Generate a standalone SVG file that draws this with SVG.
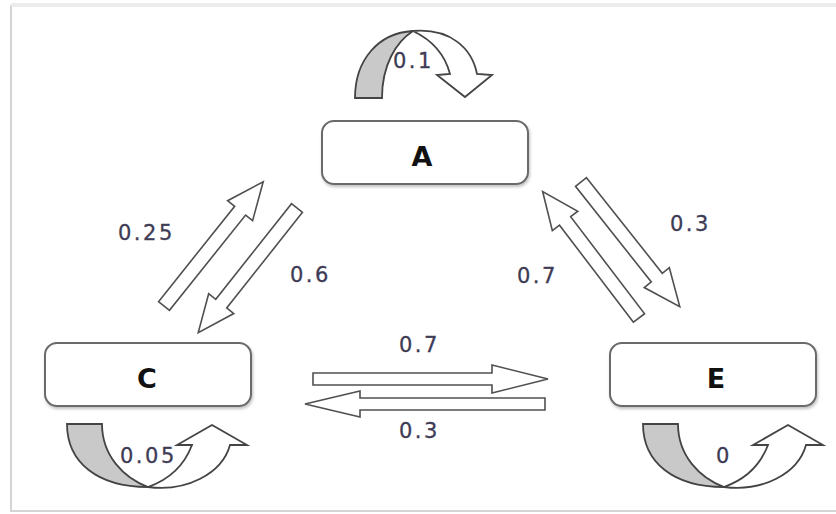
<svg xmlns="http://www.w3.org/2000/svg" width="836" height="514" viewBox="0 0 836 514">
<style>
.lbl{font-family:"DejaVu Sans","Verdana",sans-serif;font-size:21px;fill:#3e3b55;letter-spacing:2.5px;stroke:#3e3b55;stroke-width:0.3}
.nodeText{font-family:"DejaVu Sans","Liberation Sans",sans-serif;font-size:27px;font-weight:bold;fill:#111;text-anchor:middle}
.box{fill:#fff;stroke:#6a6a6a;stroke-width:2}
.arr{fill:#fff;stroke:#505050;stroke-width:1.6;stroke-linejoin:miter}
.gray{fill:#c9c9c9;stroke:#444;stroke-width:1.8}
.white{fill:#fff;stroke:#444;stroke-width:1.8}
</style>
<defs>
<path id="diag" d="M0,-7 H122 V-16 L159,0 L122,16 V7 H0 Z"/>
<filter id="sh" x="-10%" y="-10%" width="120%" height="130%">
<feDropShadow dx="1" dy="2" stdDeviation="1.5" flood-color="#000" flood-opacity="0.25"/>
</filter>
<g id="loopB">
<path class="gray" d="M67,424 C67,462 97,487 148,487 C124,478 102,456 102,424 Z"/>
<path class="white" d="M148,487 C186,492 222,474 230,445 L247,445 L212,425 L177,445 L192,445 C184,466 168,480 148,487 Z"/>
</g>
</defs>
<rect x="0" y="0" width="836" height="514" fill="#fff"/>
<rect x="11" y="6" width="840" height="505" fill="#fff" stroke="#d4d4d4" stroke-width="2"/>
<line x1="11" y1="5" x2="836" y2="5" stroke="#ececec" stroke-width="4"/>

<g id="connectors">
<use href="#diag" class="arr" transform="translate(164,306) rotate(-51.4)"/>
<use href="#diag" class="arr" transform="translate(297,208) rotate(128.4)"/>
<use href="#diag" class="arr" transform="translate(639,318) rotate(-127.3)"/>
<use href="#diag" class="arr" transform="translate(581,182) rotate(51.6)"/>
<path class="arr" d="M313,373 H492 V365 L548,379 L492,393 V385 H313 Z"/>
<path class="arr" d="M545,398 H360 V391 L305,404 L360,417 V410 H545 Z"/>
<g id="loopA">
<path class="gray" d="M355,98 C355,60 378,33 413,31 C396,42 382,65 382,98 Z"/>
<path class="white" d="M413,31 C450,28 472,48 477,74 L492,75 L465,97 L437,75 L450,74 C445,55 432,40 413,31 Z"/>
</g>
<use href="#loopB"/>
<use href="#loopB" transform="translate(576,0)"/>
</g>

<g id="node-A">
<rect class="box" x="322" y="121" width="206" height="63" rx="12" filter="url(#sh)"/>
<text class="nodeText" x="422" y="166">A</text>
</g>
<g id="node-C">
<rect class="box" x="45" y="343" width="206" height="63" rx="12" filter="url(#sh)"/>
<text class="nodeText" x="147" y="388">C</text>
</g>
<g id="node-E">
<rect class="box" x="610" y="343" width="206" height="63" rx="12" filter="url(#sh)"/>
<text class="nodeText" x="716" y="388">E</text>
</g>

<g id="labels">
<text class="lbl" x="393" y="68">0.1</text>
<text class="lbl" x="118" y="240">0.25</text>
<text class="lbl" x="290" y="282">0.6</text>
<text class="lbl" x="670" y="231">0.3</text>
<text class="lbl" x="517" y="283">0.7</text>
<text class="lbl" x="399" y="352">0.7</text>
<text class="lbl" x="399" y="438">0.3</text>
<text class="lbl" x="120" y="463">0.05</text>
<text class="lbl" x="716" y="463">0</text>
</g>
</svg>
